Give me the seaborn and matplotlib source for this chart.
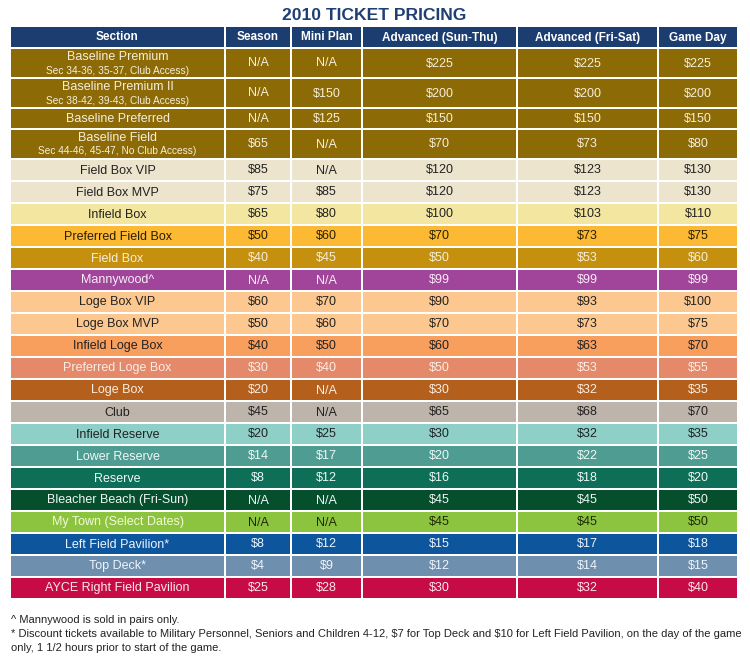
import matplotlib.pyplot as plt
import seaborn as sns

# table content
columns = ["Section", "Season", "Mini Plan", "Advanced (Sun-Thu)", "Advanced (Fri-Sat)", "Game Day"]
sections = ["Baseline Premium", "Baseline Premium II", "Baseline Preferred", "Baseline Field",
            "Field Box VIP", "Field Box MVP", "Infield Box", "Preferred Field Box", "Field Box",
            "Mannywood^", "Loge Box VIP", "Loge Box MVP", "Infield Loge Box", "Preferred Loge Box",
            "Loge Box", "Club", "Infield Reserve", "Lower Reserve", "Reserve",
            "Bleacher Beach (Fri-Sun)", "My Town (Select Dates)", "Left Field Pavilion*",
            "Top Deck*", "AYCE Right Field Pavilion"]
sublabels = {0: "Sec 34-36, 35-37, Club Access)",
             1: "Sec 38-42, 39-43, Club Access)",
             3: "Sec 44-46, 45-47, No Club Access)"}
season = ["N/A", "N/A", "N/A", "$65", "$85", "$75", "$65", "$50", "$40", "N/A", "$60", "$50",
          "$40", "$30", "$20", "$45", "$20", "$14", "$8", "N/A", "N/A", "$8", "$4", "$25"]
mini_plan = ["N/A", "$150", "$125", "N/A", "N/A", "$85", "$80", "$60", "$45", "N/A", "$70", "$60",
             "$50", "$40", "N/A", "N/A", "$25", "$17", "$12", "N/A", "N/A", "$12", "$9", "$28"]
adv_sun_thu = ["$225", "$200", "$150", "$70", "$120", "$120", "$100", "$70", "$50", "$99", "$90",
               "$70", "$60", "$50", "$30", "$65", "$30", "$20", "$16", "$45", "$45", "$15", "$12", "$30"]
adv_fri_sat = ["$225", "$200", "$150", "$73", "$123", "$123", "$103", "$73", "$53", "$99", "$93",
               "$73", "$63", "$53", "$32", "$68", "$32", "$22", "$18", "$45", "$45", "$17", "$14", "$32"]
game_day = ["$225", "$200", "$150", "$80", "$130", "$130", "$110", "$75", "$60", "$99", "$100",
            "$75", "$70", "$55", "$35", "$70", "$35", "$25", "$20", "$50", "$50", "$18", "$15", "$40"]
footnotes = ["^ Mannywood is sold in pairs only.",
             "* Discount tickets available to Military Personnel, Seniors and Children 4-12, $7 for Top Deck "
             "and $10 for Left Field Pavilion, on the day of the game",
             "only, 1 1/2 hours prior to start of the game."]

# styling: row colours (background, section text, value text)
LIGHT = "#F6EEDC"
row_styles = [
    ("#8C6A05", LIGHT, LIGHT), ("#8C6A05", LIGHT, LIGHT), ("#8C6A05", LIGHT, LIGHT), ("#8C6A05", LIGHT, LIGHT),
    ("#EDE4CD", "#222222", "#222222"), ("#EDE4CD", "#222222", "#222222"),
    ("#F3E6A0", "#222222", "#222222"), ("#FBB934", "#2B1E00", "#2B1E00"),
    ("#C4900E", LIGHT, LIGHT), ("#A1459B", "#F8ECF6", "#F8ECF6"),
    ("#FDC88F", "#222222", "#222222"), ("#FDC88F", "#222222", "#222222"),
    ("#F99F5E", "#222222", "#222222"), ("#E4896A", "#FBEDE6", "#FBEDE6"),
    ("#B4601C", "#FBEDE0", "#FBEDE0"), ("#BDB4AB", "#222222", "#222222"),
    ("#8ED0C8", "#222222", "#222222"), ("#4F9C92", "#EEF8F6", "#EEF8F6"),
    ("#0D6F57", "#EEF8F6", "#EEF8F6"), ("#054F2D", "#EEF8F6", "#EEF8F6"),
    ("#8DC43F", "#F4F9D8", "#1E2A05"), ("#0D569E", "#EEF4FB", "#EEF4FB"),
    ("#6E8FAD", "#EEF4FB", "#EEF4FB"), ("#C70B47", "#FCE8EE", "#FCE8EE"),
]
HEADER_BG = "#1C3D70"
TITLE_COLOR = "#1F3E74"

sns.set_theme(style="white")
plt.rcParams["font.family"] = ["Liberation Sans", "DejaVu Sans"]
plt.rcParams["text.parse_math"] = False

W, H = 750, 658
fig = plt.figure(figsize=(W / 100, H / 100), dpi=100)
ax = fig.add_axes([0, 0, 1, 1])
ax.set_xlim(0, W)
ax.set_ylim(H, 0)
ax.axis("off")

# layout in pixels
col_left = [11, 226, 292, 363, 518, 659]
col_width = [213, 64, 69, 153, 139, 78]
row_pitch = [22] + [30, 30, 21, 30] + [22] * 20
gap = 2
top = 27

tops = []
y = top
for p in row_pitch:
    tops.append(y)
    y += p

values = [sections, season, mini_plan, adv_sun_thu, adv_fri_sat, game_day]

# header row
hy = tops[0] + (row_pitch[0] - gap) / 2
for c, name in enumerate(columns):
    ax.barh(hy, col_width[c], left=col_left[c], height=row_pitch[0] - gap,
            color=HEADER_BG, linewidth=0)
    ax.text(col_left[c] + col_width[c] / 2, hy + 0.5, name, ha="center", va="center",
            color="white", fontsize=8.5, fontweight="bold")

# body rows
for r, sec in enumerate(sections):
    h = row_pitch[r + 1] - gap
    cy = tops[r + 1] + h / 2
    bg, sec_color, val_color = row_styles[r]
    for c in range(len(columns)):
        ax.barh(cy, col_width[c], left=col_left[c], height=h, color=bg, linewidth=0)
        xc = col_left[c] + col_width[c] / 2
        if c == 0:
            if r in sublabels:
                ax.text(xc, cy - 6, sec, ha="center", va="center", color=sec_color, fontsize=9)
                ax.text(xc, cy + 7.5, sublabels[r], ha="center", va="center", color=sec_color,
                        fontsize=7.3)
            else:
                ax.text(xc, cy + 0.5, sec, ha="center", va="center", color=sec_color, fontsize=9)
        else:
            ax.text(xc, cy + 0.5, values[c][r], ha="center", va="center", color=val_color, fontsize=9)

ax.text(374, 15, "2010 TICKET PRICING", ha="center", va="center", color=TITLE_COLOR,
        fontsize=12.6, fontweight="bold")

for i, line in enumerate(footnotes):
    ax.text(11, 620 + 14 * i, line, ha="left", va="center", color="#222222", fontsize=8.0)

fig.savefig("out.png", dpi=100)
